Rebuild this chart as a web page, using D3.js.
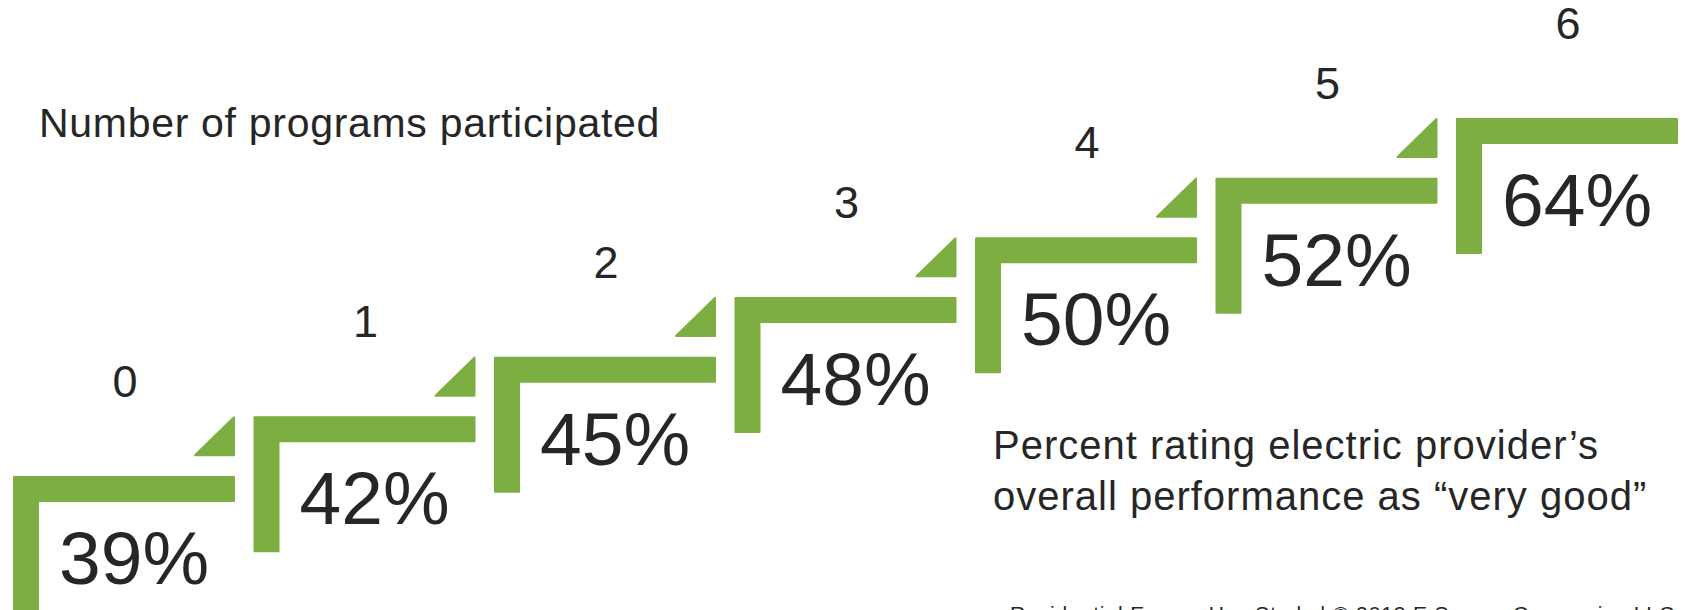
<!DOCTYPE html>
<html>
<head>
<meta charset="utf-8">
<script src="https://cdn.jsdelivr.net/npm/d3@7"></script>
<style>
    body { margin: 0; background: #ffffff; }
    #stair-chart { width: 1685px; height: 610px; overflow: hidden; }
    text { font-family: "Liberation Sans", Arial, sans-serif; fill: #262626; }
</style>
</head>
<body>
<div id="stair-chart"></div>
<script>

// data
let programCounts = ["0", "1", "2", "3", "4", "5", "6"];
let veryGoodPercent = [39, 42, 45, 48, 50, 52, 64];

let axisTitle = "Number of programs participated";
let valueTitle = ["Percent rating electric provider\u2019s", "overall performance as \u201cvery good\u201d"];
let sourceNote = "Residential Energy Use Study | \u00a9 2013 E Source Companies LLC";


/* * * * * * * * * * * * * *
*      class StairVis      *
* * * * * * * * * * * * * */

class StairVis {

    constructor(parentElement, categories, values){
        this.parentElement = parentElement;
        this.categories = categories;
        this.values = values;

        this.initVis()
    }

    initVis(){
        let vis = this;

        vis.margin = {top: 0, right: 0, bottom: 0, left: 0};

        vis.width = document.getElementById(vis.parentElement).getBoundingClientRect().width - vis.margin.left - vis.margin.right;
        vis.height = document.getElementById(vis.parentElement).getBoundingClientRect().height - vis.margin.top - vis.margin.bottom;

        vis.svg = d3.select("#" + vis.parentElement).append("svg")
            .attr("width", vis.width + vis.margin.left + vis.margin.right)
            .attr("height", vis.height + vis.margin.top + vis.margin.bottom)
            .append('g')
            .attr('transform', `translate (${vis.margin.left}, ${vis.margin.top})`);

        // each step: left edge and top edge
        vis.x = d3.scalePoint()
            .domain(vis.categories)
            .range([13, 1456]);

        vis.y = d3.scalePoint()
            .domain(vis.categories)
            .range([476, 118]);

        vis.stepWidth = 222;
        vis.barSize = 26;
        vis.stepDrop = 136;
        vis.arrowSize = 40;

        vis.data = vis.categories.map((c, i) => ({count: c, value: vis.values[i], prev: i > 0 ? vis.categories[i - 1] : null}));

        vis.green = "#7cae42";

        vis.updateVis();
    }

    updateVis(){
        let vis = this;

        // L shaped steps
        vis.svg.selectAll(".step")
            .data(vis.data)
            .enter().append("path")
            .attr("class", "step")
            .attr("fill", vis.green)
            .attr("stroke", vis.green)
            .attr("stroke-width", 2)
            .attr("stroke-linejoin", "round")
            .attr("d", d => {
                let x0 = vis.x(d.count) + 1, y0 = vis.y(d.count) + 1;
                let w = vis.stepWidth - 2, t = vis.barSize - 2, h = vis.stepDrop - 2;
                let p = d3.path();
                p.moveTo(x0, y0);
                p.lineTo(x0 + w, y0);
                p.lineTo(x0 + w, y0 + t);
                p.lineTo(x0 + t, y0 + t);
                p.lineTo(x0 + t, y0 + h);
                p.lineTo(x0, y0 + h);
                p.closePath();
                return p.toString();
            });

        // small triangles at the end of the previous step
        vis.svg.selectAll(".arrow")
            .data(vis.data.filter(d => d.prev !== null))
            .enter().append("path")
            .attr("class", "arrow")
            .attr("fill", vis.green)
            .attr("stroke", vis.green)
            .attr("stroke-width", 2)
            .attr("stroke-linejoin", "round")
            .attr("d", d => {
                let xr = vis.x(d.prev) + vis.stepWidth - 1;
                let yt = vis.y(d.count) + 1;
                let s = vis.arrowSize;
                let p = d3.path();
                p.moveTo(xr, yt);
                p.lineTo(xr, yt + s - 2);
                p.lineTo(xr - s + 1, yt + s - 2);
                p.closePath();
                return p.toString();
            });

        // number of programs above each step
        vis.svg.selectAll(".count-label")
            .data(vis.data)
            .enter().append("text")
            .attr("class", "count-label")
            .attr("x", d => vis.x(d.count) + 112)
            .attr("y", d => vis.y(d.count) - 79)
            .attr("text-anchor", "middle")
            .style("font-size", "45px")
            .text(d => d.count);

        // percentages inside the steps
        vis.svg.selectAll(".value-label")
            .data(vis.data)
            .enter().append("text")
            .attr("class", "value-label")
            .attr("x", d => vis.x(d.count) + 46)
            .attr("y", d => vis.y(d.count) + 108)
            .style("font-size", "75px")
            .text(d => d3.format(".0f")(d.value) + "%");

        vis.svg.append("text")
            .attr("x", 39)
            .attr("y", 137)
            .style("font-size", "41px")
            .style("letter-spacing", "0.7px")
            .text(axisTitle);

        vis.svg.selectAll(".value-title")
            .data(valueTitle)
            .enter().append("text")
            .attr("class", "value-title")
            .attr("x", 993)
            .attr("y", (d, i) => 459 + i * 51)
            .style("font-size", "40px")
            .style("letter-spacing", "1px")
            .text(d => d);

        vis.svg.append("text")
            .attr("x", 1010)
            .attr("y", 621)
            .style("font-size", "21px")
            .style("letter-spacing", "0.87px")
            .text(sourceNote);
    }
}

let stairVis = new StairVis("stair-chart", programCounts, veryGoodPercent);

</script>
</body>
</html>
